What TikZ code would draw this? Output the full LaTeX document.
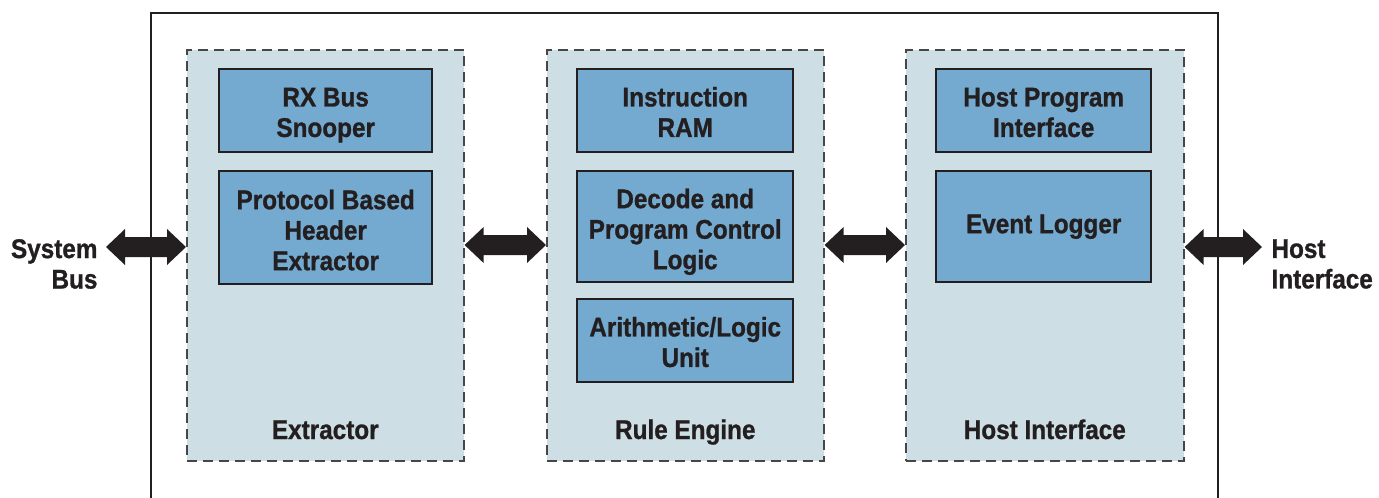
\documentclass[tikz,border=0pt]{standalone}
\usepackage{fontspec}
\setmainfont{Liberation Sans}[FakeStretch=0.9, BoldFeatures={FakeBold=1.0}]
\usetikzlibrary{calc}

\definecolor{panelfill}{RGB}{205,222,228}
\definecolor{boxfill}{RGB}{116,170,207}
\definecolor{ink}{RGB}{35,31,32}
\definecolor{dashgrey}{RGB}{70,70,70}

% filled double-headed arrow between two points at the same height
\newcommand\dblarrow[2]{%
  \fill[ink] (#1) -- ($(#1)+(19,-18)$) -- ($(#1)+(19,-10)$)
    -- ($(#2)+(-19,-10)$) -- ($(#2)+(-19,-18)$) -- (#2)
    -- ($(#2)+(-19,18)$) -- ($(#2)+(-19,10)$)
    -- ($(#1)+(19,10)$) -- ($(#1)+(19,18)$) -- cycle;}

\begin{document}
\begin{tikzpicture}[x=1pt,y=-1pt,
  txt/.style={font=\bfseries\fontsize{27}{30.5}\selectfont, text=ink},
  panel/.style={draw=dashgrey, dash pattern=on 10pt off 6pt, line width=1.6pt,
    fill=panelfill, minimum height=411pt, inner sep=0pt, anchor=north west},
  block/.style={txt, draw=ink, line width=2.4pt, fill=boxfill, anchor=north west,
    align=center, inner sep=0pt, text depth=0pt},
  one/.style={text height=13pt},
  two/.style={text height=52.5pt},
  three/.style={text height=85pt},
  caption/.style={txt, anchor=base}]

\useasboundingbox (0,0) rectangle (1379,498);

% outer frame, open at the bottom
\draw[ink, line width=2.6pt] (151,500) -- (151,13) -- (1218,13) -- (1218,500);

% the three dashed sections
\node[panel, minimum width=277pt] (extractor) at (186,49) {};
\node[panel, minimum width=277pt] (rule) at (546,49) {};
\node[panel, minimum width=278pt] (host) at (905,49) {};

% Extractor blocks
\node[block, two, minimum width=213pt, minimum height=83pt] (rx) at (218,68) {RX Bus\\Snooper};
\node[block, three, minimum width=213pt, minimum height=113pt] (proto) at (218,170) {Protocol Based\\Header\\Extractor};

% Rule engine blocks
\node[block, two, minimum width=216pt, minimum height=83pt] (iram) at (576,68) {Instruction\\RAM};
\node[block, three, minimum width=216pt, minimum height=111pt] (decode) at (576,170) {Decode and\\Program Control\\Logic};
\node[block, two, minimum width=216pt, minimum height=83pt] (alu) at (576,298) {Arithmetic/Logic\\Unit};

% Host interface blocks
\node[block, two, minimum width=215pt, minimum height=83pt] (hpi) at (935,68) {Host Program\\Interface};
\node[block, one, minimum width=215pt, minimum height=111pt] (evlog) at (935,170) {Event Logger};

% section captions
\node[caption] (capext) at ($(extractor.north)+(0,390)$) {Extractor};
\node[caption] (caprule) at ($(rule.north)+(0,390)$) {Rule Engine};
\node[caption] (caphost) at ($(host.north)+(0,390)$) {Host Interface};

% outside labels
\node[txt, anchor=east, align=right] (sysbus) at (101,264) {System\\Bus};
\node[txt, anchor=west, align=left] (hostif) at (1268,264) {Host\\Interface};

% arrow ends
\coordinate (sbend) at (106,247);
\coordinate (hiend) at (1262,247);

% data paths
\dblarrow{sbend}{extractor.west |- sbend}
\dblarrow{$(extractor.north east)+(0,196)$}{$(rule.north west)+(0,196)$}
\dblarrow{$(rule.north east)+(0,196)$}{$(host.north west)+(0,196)$}
\dblarrow{host.east |- hiend}{hiend}

\end{tikzpicture}
\end{document}
